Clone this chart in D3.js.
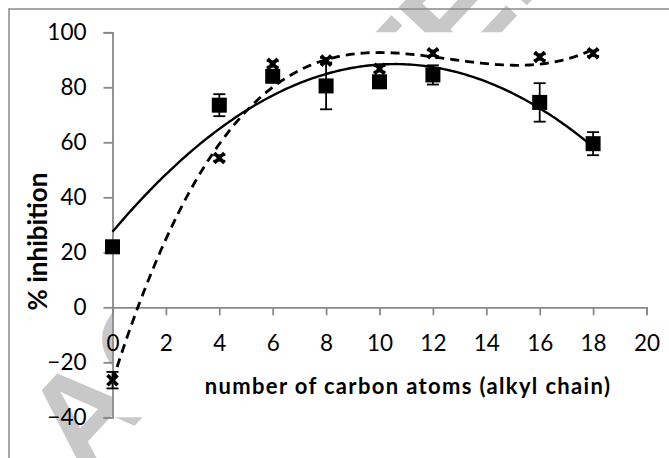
<!DOCTYPE html>
<html>
<head>
<meta charset="utf-8">
<script src="https://cdn.jsdelivr.net/npm/d3@7"></script>
<style>
  body { margin: 0; background: #fff; }
  svg { display: block; }
</style>
</head>
<body>
<svg width="669" height="458"></svg>
<script>
// carbon atoms in the alkyl chain
var carbons = [0, 4, 6, 8, 10, 12, 16, 18];
// series with squares (solid trendline, order 2)
var inhibA = [22, 73.5, 84, 80.5, 82, 84.5, 74.5, 59.5];
var errA = [1.5, 4, 2, 8.5, 2, 3.5, 7, 4.2];
// series with crosses (dashed trendline, order 3)
var inhibB = [-26.5, 54.3, 88.5, 89.7, 86.7, 92.4, 91, 92.4];
var errB = [3, 1, 1, 1, 1, 1, 1, 1];
var xTicks = [0, 2, 4, 6, 8, 10, 12, 14, 16, 18, 20];
var yTicks = [-40, -20, 0, 20, 40, 60, 80, 100];

function main() {
    var svg = d3.select("svg");

    var xScale = d3.scaleLinear().domain([0, 20]).range([112.5, 646.5]),
        yScale = d3.scaleLinear().domain([-40, 100]).range([417.3, 32.3]);

    var axisCol = "#898989";

    // watermark behind the chart, covered by the plot area
    svg.append("text")
       .attr("transform", "translate(84,480) rotate(-47)")
       .attr("font-family", "Liberation Sans, Arial, sans-serif")
       .attr("font-weight", "bold")
       .attr("font-size", "134px")
       .attr("fill", "#c8c8c8")
       .text("ACCEPTED MANUSCRIPT");

    svg.append("rect")
       .attr("x", xScale(0))
       .attr("y", yScale(100))
       .attr("width", 669 - xScale(0))
       .attr("height", yScale(-40) - yScale(100))
       .attr("fill", "#fff");

    // chart border
    svg.append("rect")
       .attr("x", 9).attr("y", 9)
       .attr("width", 800).attr("height", 600)
       .attr("fill", "none")
       .attr("stroke", axisCol)
       .attr("stroke-width", 1.5);

    var g = svg.append("g");

    // y axis
    var yAxis = g.append("g")
       .attr("transform", "translate(" + xScale(0) + ",0)")
       .call(d3.axisLeft(yScale).tickValues(yTicks).tickSize(9).tickPadding(17));
    yAxis.select(".domain").attr("stroke", axisCol).attr("stroke-width", 1.8);
    yAxis.selectAll(".tick line").attr("stroke", axisCol).attr("stroke-width", 1.8);
    yAxis.selectAll(".tick text")
       .attr("font-family", "Lato, sans-serif")
       .attr("font-size", "22.5px")
       .attr("fill", "#000");

    // x axis through zero
    var xAxis = g.append("g")
       .attr("transform", "translate(0," + yScale(0) + ")")
       .call(d3.axisBottom(xScale).tickValues(xTicks).tickSize(8).tickPadding(20));
    xAxis.select(".domain").attr("stroke", axisCol).attr("stroke-width", 1.8);
    xAxis.selectAll(".tick line").attr("stroke", axisCol).attr("stroke-width", 1.8);
    xAxis.selectAll(".tick text")
       .attr("font-family", "Lato, sans-serif")
       .attr("font-size", "22.5px")
       .attr("fill", "#000");

    // axis titles
    g.append("text")
       .attr("x", 408)
       .attr("y", 394)
       .attr("text-anchor", "middle")
       .attr("font-family", "Lato, sans-serif")
       .attr("font-weight", "bold")
       .attr("font-size", "22px")
       .attr("letter-spacing", "1.35px")
       .text("number of carbon atoms (alkyl chain)");

    g.append("text")
       .attr("transform", "translate(46.5,241.5) rotate(-90)")
       .attr("text-anchor", "middle")
       .attr("font-family", "Lato, sans-serif")
       .attr("font-weight", "bold")
       .attr("font-size", "26px")
       .text("% inhibition");

    // trendlines
    var fitA = polyfit(carbons, inhibA, 2),
        fitB = polyfit(carbons, inhibB, 3);
    var xs = d3.range(0, 18.001, 0.1);
    var line = d3.line()
       .x(function(d) { return xScale(d[0]); })
       .y(function(d) { return yScale(d[1]); });

    g.append("path")
       .datum(xs.map(function(x) { return [x, polyval(fitA, x)]; }))
       .attr("d", line)
       .attr("fill", "none")
       .attr("stroke", "#000")
       .attr("stroke-width", 2.4);

    g.append("path")
       .datum(xs.map(function(x) { return [x, polyval(fitB, x)]; }))
       .attr("d", line)
       .attr("fill", "none")
       .attr("stroke", "#000")
       .attr("stroke-width", 2.8)
       .attr("stroke-dasharray", "9,6");

    // error bars
    function errorBars(vals, errs) {
        var eg = g.append("g").attr("stroke", "#000").attr("stroke-width", 1.8);
        carbons.forEach(function(c, i) {
            var cx = xScale(c), top = yScale(vals[i] + errs[i]), bot = yScale(vals[i] - errs[i]);
            eg.append("line").attr("x1", cx).attr("x2", cx).attr("y1", top).attr("y2", bot);
            eg.append("line").attr("x1", cx - 6).attr("x2", cx + 6).attr("y1", top).attr("y2", top);
            eg.append("line").attr("x1", cx - 6).attr("x2", cx + 6).attr("y1", bot).attr("y2", bot);
        });
    }
    errorBars(inhibA, errA);
    errorBars(inhibB, errB);

    // square markers
    g.selectAll(".sq")
       .data(carbons)
       .enter().append("rect")
       .attr("class", "sq")
       .attr("x", function(d) { return xScale(d) - 7.5; })
       .attr("y", function(d, i) { return yScale(inhibA[i]) - 7.5; })
       .attr("width", 15)
       .attr("height", 15)
       .attr("fill", "#000");

    // cross markers
    g.selectAll(".cx")
       .data(carbons)
       .enter().append("path")
       .attr("class", "cx")
       .attr("transform", function(d, i) { return "translate(" + xScale(d) + "," + yScale(inhibB[i]) + ")"; })
       .attr("d", d3.symbol(d3.symbolTimes, 68))
       .attr("fill", "none")
       .attr("stroke", "#000")
       .attr("stroke-width", 3.6);
}

// least squares polynomial, coefficients low to high
function polyfit(xs, ys, order) {
    var n = order + 1, A = [], b = [];
    for (var r = 0; r < n; r++) {
        A.push([]);
        for (var c = 0; c < n; c++) {
            A[r].push(d3.sum(xs, function(x) { return Math.pow(x, r + c); }));
        }
        b.push(d3.sum(xs, function(x, i) { return ys[i] * Math.pow(x, r); }));
    }
    for (var k = 0; k < n; k++) {
        for (var r2 = k + 1; r2 < n; r2++) {
            var f = A[r2][k] / A[k][k];
            for (var c2 = k; c2 < n; c2++) A[r2][c2] -= f * A[k][c2];
            b[r2] -= f * b[k];
        }
    }
    var coef = new Array(n);
    for (var i = n - 1; i >= 0; i--) {
        var s = b[i];
        for (var j = i + 1; j < n; j++) s -= A[i][j] * coef[j];
        coef[i] = s / A[i][i];
    }
    return coef;
}

function polyval(coef, x) {
    return coef.reduce(function(acc, c, i) { return acc + c * Math.pow(x, i); }, 0);
}

main();
</script>
</body>
</html>
